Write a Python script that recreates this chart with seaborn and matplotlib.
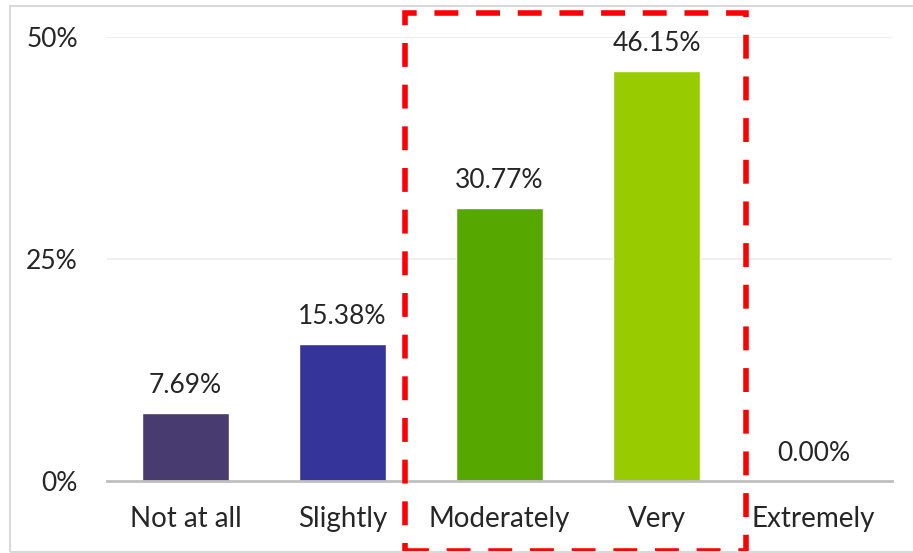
import matplotlib
matplotlib.use("Agg")
import matplotlib.pyplot as plt
import matplotlib.patches as patches
import seaborn as sb
import pandas as pd

categories = ["Not at all", "Slightly", "Moderately", "Very", "Extremely"]
values = [7.69, 15.38, 30.77, 46.15, 0.00]
bar_colors = ["#483b6f", "#35349a", "#56a800", "#99cc00", "#99cc00"]
y_ticks = [0, 25, 50]
highlight = ["Moderately", "Very"]

df = pd.DataFrame({"cat": categories, "val": values})

sb.set_style("white")
plt.rcParams['font.family'] = ['Lato', 'DejaVu Sans']

fig = plt.figure(figsize=(9.13, 5.53), dpi=100)
ax = fig.add_axes([107 / 913, 1 - 481 / 553, 785 / 913, 444 / 553])

sb.barplot(data=df, x="cat", y="val", hue="cat", palette=bar_colors, legend=False,
           width=0.56, saturation=1, ax=ax)

ax.set_ylim(0, 50)
ax.set_xlim(-0.5, len(categories) - 0.5)
ax.set_yticks(y_ticks)
ax.set_yticklabels([f"{t}%" for t in y_ticks], fontsize=19)
ax.tick_params(axis='y', length=0, pad=21)
ax.tick_params(axis='x', length=0, pad=18, labelsize=20)
ax.set_xlabel("")
ax.set_ylabel("")
for t in y_ticks[1:]:
    ax.axhline(t, color="#ececec", lw=1.2, zorder=0)
for s in ["top", "right", "left"]:
    ax.spines[s].set_visible(False)
ax.spines["bottom"].set_color("#bfbfbf")
ax.spines["bottom"].set_linewidth(2)

for i, v in enumerate(values):
    ax.text(i, v + 1.7, f"{v:.2f}%", ha="center", va="bottom", fontsize=19)

# red dashed box around the highlighted categories
i0 = categories.index(highlight[0])
i1 = categories.index(highlight[-1])
box = patches.Rectangle((i0 - 0.6, -7.9), (i1 - i0) + 1.17, 60.6, transform=ax.transData,
                        fill=False, edgecolor="#ff0000", lw=4, ls=(0, (4.3, 3.2)),
                        clip_on=False, zorder=5)
ax.add_patch(box)

# outer chart border
fig.patches.append(patches.Rectangle((10 / 913, 1 / 553), 1.2, 1 - 7 / 553,
                                     transform=fig.transFigure, fill=False,
                                     edgecolor="#d9d9d9", lw=1.5))

plt.savefig("out.png", dpi=100)
